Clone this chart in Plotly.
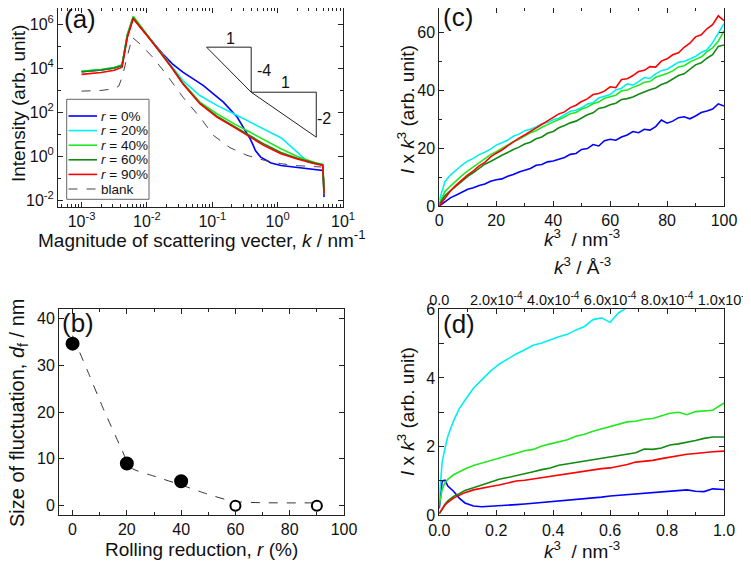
import numpy as np
import plotly.graph_objects as go

FONT = "Liberation Sans, Arial, sans-serif"

# ---------------- Panel (a): SAXS profiles (log10 values)
logk_a = [-3.0, -2.7, -2.5, -2.38, -2.30, -2.21, -2.0, -1.81, -1.61, -1.45, -1.19, -0.93, -0.67, -0.42, -0.2, 0.05, 0.3, 0.57, 0.69, 0.70, 0.71]
logI_r40 = [3.87, 3.95, 4.04, 4.16, 5.55, 6.38, 5.55, 4.82, 4.02, 3.35, 2.47, 1.94, 1.49, 1.10, 0.75, 0.35, 0.0, -0.28, -0.36, -1.0, -1.6]
logI_r60 = [3.85, 3.93, 4.02, 4.14, 5.45, 6.32, 5.52, 4.80, 4.00, 3.32, 2.42, 1.83, 1.38, 0.95, 0.55, 0.18, -0.08, -0.30, -0.38, -1.0, -1.65]
logI_r90 = [3.73, 3.82, 3.92, 4.06, 5.40, 6.26, 5.50, 4.80, 4.00, 3.30, 2.40, 1.79, 1.33, 0.88, 0.48, 0.12, -0.12, -0.33, -0.41, -1.0, -1.7]

logk_r0 = [-3.0, -2.7, -2.5, -2.38, -2.30, -2.21, -2.0, -1.81, -1.76, -1.61, -1.45, -1.14, -0.83, -0.62, -0.49, -0.42, -0.38, -0.34, -0.26, -0.1, 0.05, 0.3, 0.5, 0.69, 0.70, 0.71]
logI_r0 = [3.85, 3.93, 4.02, 4.14, 5.5, 6.30, 5.52, 4.82, 4.67, 4.21, 3.83, 3.23, 2.47, 1.79, 1.18, 0.80, 0.55, 0.27, -0.03, -0.30, -0.41, -0.50, -0.56, -0.64, -1.0, -1.85]

logk_r20 = [-3.0, -2.7, -2.5, -2.38, -2.30, -2.21, -2.0, -1.81, -1.66, -1.45, -1.19, -0.93, -0.67, -0.42, -0.05, 0.05, 0.3, 0.46, 0.69, 0.70, 0.71]
logI_r20 = [3.87, 3.95, 4.04, 4.16, 5.5, 6.33, 5.53, 4.82, 4.21, 3.45, 2.77, 2.32, 1.94, 1.56, 1.03, 0.85, 0.2, -0.26, -0.38, -1.0, -1.7]

logk_blank = [-3.0, -2.7, -2.5, -2.43, -2.38, -2.30, -2.225, -2.1, -1.91, -1.71, -1.45, -1.19, -0.98, -0.73, -0.47, -0.2, 0.05, 0.3, 0.67]
logI_blank = [2.97, 3.0, 3.08, 3.2, 3.6, 4.5, 5.42, 5.1, 4.51, 3.76, 2.70, 1.79, 0.95, 0.4, 0.05, -0.18, -0.33, -0.42, -0.48]

# slope guide triangles (k, I)
tri1_k = [0.0818, 0.394, 0.394, 0.0818]
tri1_I = [9.3e4, 9.3e4, 832, 9.3e4]
tri2_k = [0.394, 3.9, 3.9, 0.394]
tri2_I = [832, 832, 7.5, 832]

# ---------------- Panel (b)
r_pct = [0, 20, 40, 60, 90]
d_f = [34.6, 9.0, 5.2, 0.0, 0.0]
filled = [True, True, True, False, False]
guide_r = [0, 5.5, 11.7, 17.8, 21.5, 30, 39.6, 48.5, 59.5, 89.6]
guide_d = [36.3, 28.8, 20.2, 12.4, 8.1, 6.3, 4.5, 2.7, 0.9, 0.6]

# ---------------- Panel (c): I x k^3 vs k^3
k3_c = list(range(0, 101, 2))
c_r0 = [0, 1.6, 2.9, 3.8, 4.9, 5.8, 6.3, 7.1, 7.6, 8.6, 9.1, 9.4, 10.3, 10.9, 11.8, 12.4, 13.0, 14.1, 14.4, 15.3, 15.6, 16.2, 16.8, 17.9, 18.2, 19.6, 19.9, 21.3, 20.8, 22.6, 23.1, 22.8, 23.9, 24.6, 25.8, 25.4, 26.6, 26.3, 27.5, 29.8, 28.7, 29.4, 30.6, 30.9, 30.2, 31.2, 32.4, 32.9, 33.6, 35.4, 34.6]
c_r20 = [2.0, 8.5, 10.8, 12.6, 14.2, 15.6, 16.5, 17.8, 18.6, 19.7, 21.1, 21.9, 22.8, 24.2, 24.9, 26.1, 26.6, 27.4, 28.5, 28.9, 29.9, 30.4, 31.6, 32.8, 33.2, 34.1, 35.3, 35.8, 37.4, 37.9, 38.6, 40.2, 40.8, 42.3, 41.9, 43.1, 44.5, 44.2, 45.8, 46.9, 47.4, 48.6, 49.8, 50.1, 50.9, 51.8, 53.2, 54.1, 56.6, 59.8, 63.2]
c_r40 = [1.0, 5.0, 7.0, 8.9, 10.6, 12.2, 13.6, 15.0, 16.2, 17.8, 18.8, 20.0, 21.0, 22.3, 23.1, 24.2, 25.4, 26.1, 27.3, 28.2, 29.1, 29.9, 30.8, 32.0, 32.4, 33.6, 34.3, 35.4, 36.0, 37.3, 37.9, 38.4, 39.9, 40.2, 41.1, 41.8, 42.9, 43.1, 44.6, 45.2, 45.9, 46.8, 48.2, 48.6, 49.9, 50.8, 51.6, 53.4, 54.8, 57.1, 60.8]
c_r60 = [0.5, 3.6, 5.3, 7.0, 8.8, 10.3, 11.6, 13.2, 14.5, 15.4, 16.6, 17.6, 18.5, 19.6, 20.4, 21.5, 22.1, 23.3, 23.9, 25.2, 25.8, 27.1, 27.9, 28.8, 29.4, 30.5, 31.6, 32.3, 33.8, 34.2, 35.1, 35.6, 36.9, 37.2, 37.8, 38.7, 39.6, 40.3, 40.9, 42.1, 42.8, 43.9, 45.2, 45.8, 47.3, 48.9, 49.6, 51.2, 52.4, 55.3, 55.8]
c_r90 = [0, 2.9, 5.4, 7.3, 9.1, 10.8, 12.2, 13.9, 15.1, 17.0, 18.3, 19.4, 20.8, 22.3, 23.5, 24.6, 25.8, 27.1, 28.4, 29.6, 30.7, 31.9, 32.6, 34.1, 34.9, 36.2, 37.1, 38.6, 39.0, 39.8, 41.3, 41.0, 43.8, 44.1, 45.2, 46.6, 47.0, 48.3, 48.1, 50.2, 51.0, 52.4, 53.1, 55.0, 56.4, 58.6, 59.3, 61.4, 62.8, 65.9, 64.2]

# ---------------- Panel (d): low-k^3 region
k3_d = [0, 0.01, 0.02, 0.03, 0.05, 0.07, 0.09, 0.12, 0.15, 0.18, 0.21, 0.24, 0.27, 0.30, 0.33, 0.36, 0.39, 0.42, 0.45, 0.48, 0.51, 0.54, 0.57, 0.60, 0.63, 0.66, 0.69, 0.72, 0.75, 0.78, 0.81, 0.84, 0.87, 0.90, 0.93, 0.96, 1.00]
d_r0 = [0.2, 1.0, 1.02, 0.85, 0.7, 0.5, 0.36, 0.27, 0.25, 0.26, 0.27, 0.29, 0.31, 0.33, 0.35, 0.38, 0.39, 0.41, 0.43, 0.46, 0.48, 0.5, 0.53, 0.56, 0.58, 0.6, 0.62, 0.64, 0.65, 0.68, 0.7, 0.72, 0.74, 0.7, 0.69, 0.77, 0.75]
d_r20 = [0.5, 1.55, 1.95, 2.3, 2.75, 3.1, 3.35, 3.7, 3.95, 4.2, 4.4, 4.55, 4.7, 4.82, 4.95, 5.02, 5.12, 5.2, 5.27, 5.4, 5.5, 5.7, 5.75, 5.62, 5.9, 6.05, 6.2, None, None, None, None, None, None, None, None, None, None]
d_r40 = [0.3, 0.75, 0.95, 1.05, 1.18, 1.27, 1.35, 1.45, 1.52, 1.6, 1.68, 1.74, 1.8, 1.88, 1.92, 2.02, 2.08, 2.15, 2.2, 2.3, 2.36, 2.45, 2.52, 2.6, 2.66, 2.72, 2.74, 2.8, 2.82, 2.9, 2.97, 3.0, 2.93, 3.02, 3.05, 3.06, 3.27]
d_r60 = [0.05, 0.2, 0.32, 0.42, 0.55, 0.63, 0.72, 0.8, 0.88, 0.97, 1.05, 1.1, 1.15, 1.2, 1.27, 1.33, 1.38, 1.46, 1.5, 1.54, 1.57, 1.62, 1.64, 1.7, 1.74, 1.76, 1.82, 1.93, 1.92, 1.96, 2.05, 2.08, 2.12, 2.18, 2.24, 2.28, 2.28]
d_r90 = [0.05, 0.18, 0.3, 0.38, 0.5, 0.58, 0.66, 0.74, 0.8, 0.84, 0.88, 0.93, 1.0, 1.02, 1.06, 1.1, 1.14, 1.18, 1.22, 1.25, 1.3, 1.33, 1.36, 1.38, 1.42, 1.48, 1.55, 1.57, 1.6, 1.65, 1.7, 1.74, 1.78, 1.8, 1.83, 1.85, 1.87]

# tick labels
a_xticks = [1e-3, 1e-2, 1e-1, 1e0, 1e1]
a_xtext = ["10<sup>-3</sup>", "10<sup>-2</sup>", "10<sup>-1</sup>", "10<sup>0</sup>", "10<sup>1</sup>"]
a_yticks = [1e-2, 1e0, 1e2, 1e4, 1e6]
a_ytext = ["10<sup>-2</sup>", "10<sup>0</sup>", "10<sup>2</sup>", "10<sup>4</sup>", "10<sup>6</sup>"]
top_ticks = [0, 2e-4, 4e-4, 6e-4, 8e-4, 1e-3]
top_text = ["0.0", "2.0x10<sup>-4</sup>", "4.0x10<sup>-4</sup>", "6.0x10<sup>-4</sup>", "8.0x10<sup>-4</sup>", "1.0x10<sup>-3</sup>"]

labels = ["<i>r</i> = 0%", "<i>r</i> = 20%", "<i>r</i> = 40%", "<i>r</i> = 60%", "<i>r</i> = 90%"]
colors = ["#0000FF", "#00F0F0", "#22E822", "#128A12", "#FF0000"]

# the page body keeps an 8 px margin; positions below are window pixels
OFF = 8
W, H = 751, 564 - OFF
def px_x(p): return (p - OFF) / W
def px_y(p): return 1 - (p - OFF) / H

fig = go.Figure()
LW = 1.6

# (a)
a_series = [(logk_r0, logI_r0), (logk_r20, logI_r20), (logk_a, logI_r40), (logk_a, logI_r60), (logk_a, logI_r90)]
for (lk, li), lab, col in zip(a_series, labels, colors):
    fig.add_trace(go.Scatter(x=np.power(10.0, lk), y=np.power(10.0, li), mode="lines", name=lab,
                             line=dict(color=col, width=LW), xaxis="x", yaxis="y", showlegend=False))
fig.add_trace(go.Scatter(x=np.power(10.0, logk_blank), y=np.power(10.0, logI_blank), mode="lines", name="blank",
                         line=dict(color="#444", width=1, dash="dash"), xaxis="x", yaxis="y", showlegend=False))
for tk, ti in [(tri1_k, tri1_I), (tri2_k, tri2_I)]:
    fig.add_trace(go.Scatter(x=tk, y=ti, mode="lines", line=dict(color="#222", width=1),
                             showlegend=False, xaxis="x", yaxis="y", hoverinfo="skip"))

# (c)
for ys, col in zip([c_r0, c_r20, c_r40, c_r60, c_r90], colors):
    fig.add_trace(go.Scatter(x=k3_c, y=ys, mode="lines", line=dict(color=col, width=LW),
                             showlegend=False, xaxis="x2", yaxis="y2"))

# (b)
fig.add_trace(go.Scatter(x=guide_r, y=guide_d, mode="lines", line=dict(color="#333", width=1, dash="dash", shape="spline", smoothing=0.6),
                         showlegend=False, xaxis="x3", yaxis="y3"))
fig.add_trace(go.Scatter(x=r_pct, y=d_f, mode="markers", showlegend=False, xaxis="x3", yaxis="y3",
                         marker=dict(size=[12 if f else 10 for f in filled], opacity=1,
                                     color=["#000000" if f else "#FFFFFF" for f in filled],
                                     line=dict(color="#000000", width=2))))

# (d)
for ys, col in zip([d_r0, d_r20, d_r40, d_r60, d_r90], colors):
    fig.add_trace(go.Scatter(x=k3_d, y=ys, mode="lines", line=dict(color=col, width=LW),
                             showlegend=False, xaxis="x4", yaxis="y4", connectgaps=False))
# empty trace so the top (Angstrom) axis of panel (d) is drawn
fig.add_trace(go.Scatter(x=[], y=[], mode="lines", showlegend=False, xaxis="x5", yaxis="y4", hoverinfo="skip"))

AX = dict(showline=True, linecolor="#222", linewidth=1, mirror="allticks", ticks="inside", ticklen=5,
          tickcolor="#222", tickfont=dict(size=16, color="#111", family=FONT), showgrid=False, zeroline=False,
          automargin=False)
MIN = lambda d: dict(dtick=d, ticks="inside", ticklen=3, tickcolor="#222")

dom_a_x = [px_x(58), px_x(343)]
dom_a_y = [px_y(207), min(px_y(2), 1.0)]
dom_c_x = [px_x(439.3), px_x(724)]
dom_c_y = [px_y(206), min(px_y(2), 1.0)]
dom_b_x = [px_x(59), px_x(344)]
dom_b_y = [px_y(515), px_y(309)]
dom_d_x = [px_x(439.3), px_x(724)]
dom_d_y = [px_y(515.3), px_y(309.3)]

fig.update_layout(
    width=W, height=H, autosize=False,
    margin=dict(l=0, r=0, t=0, b=0, autoexpand=False),
    paper_bgcolor="white", plot_bgcolor="white",
    font=dict(family=FONT, color="#111"),
    showlegend=False,
    xaxis=dict(AX, type="log", domain=dom_a_x, anchor="y", range=[-3.36, 1.0], tickvals=a_xticks, ticktext=a_xtext,
               minor=dict(dtick="D1", ticks="inside", ticklen=3, tickcolor="#222")),
    yaxis=dict(AX, type="log", domain=dom_a_y, anchor="x", range=[-2.3, 6.75], tickvals=a_yticks, ticktext=a_ytext,
               minor=dict(dtick=1, ticks="inside", ticklen=3, tickcolor="#222")),
    xaxis2=dict(AX, domain=dom_c_x, anchor="y2", range=[0, 100], dtick=20, minor=MIN(10)),
    yaxis2=dict(AX, domain=dom_c_y, anchor="x2", range=[0, 68.6], tickvals=[0, 20, 40, 60], minor=MIN(10)),
    xaxis3=dict(AX, domain=dom_b_x, anchor="y3", range=[-5, 100], dtick=20, minor=MIN(10)),
    yaxis3=dict(AX, domain=dom_b_y, anchor="x3", range=[-2, 42], dtick=10),
    xaxis4=dict(AX, domain=dom_d_x, anchor="y4", range=[0, 1], dtick=0.2, tickformat=".1f", minor=MIN(0.1),
                mirror=True),
    yaxis4=dict(AX, domain=dom_d_y, anchor="x4", range=[0, 6], dtick=2, minor=MIN(1)),
    xaxis5=dict(overlaying="x4", anchor="y4", side="top", range=[0, 1e-3], tickvals=top_ticks, ticktext=top_text,
                ticks="inside", ticklen=5, tickcolor="#222", showline=False, showgrid=False, zeroline=False,
                automargin=False, tickfont=dict(size=14.5, color="#111", family=FONT),
                minor=dict(tickvals=[1e-4, 3e-4, 5e-4, 7e-4, 9e-4], ticks="inside", ticklen=3, tickcolor="#222")),
)

def ann(text, x, y, size, angle=0, xanchor="center", **kw):
    fig.add_annotation(text=text, x=px_x(x), y=px_y(y), xref="paper", yref="paper", showarrow=False,
                       font=dict(size=size, family=FONT, color="#111"), textangle=angle,
                       xanchor=xanchor, yanchor="middle", **kw)

# axis titles
ann("Magnitude of scattering vecter, <i>k</i> / nm<sup>-1</sup>", 202, 239, 19)
ann("Intensity (arb. unit)", 18, 104, 19, -90)
ann("Rolling reduction, <i>r</i> (%)", 201, 549, 19)
ann("Size of fluctuation, <i>d</i><sub>f</sub> / nm", 18, 413, 20, -90)
ann("<i>k</i><sup>3</sup>  / nm<sup>-3</sup>", 582, 238, 19)
ann("<i>I</i> x <i>k</i><sup>3</sup> (arb. unit)", 406, 110, 19, -90)
ann("<i>k</i><sup>3</sup> / Å<sup>-3</sup>", 582, 266, 19)
ann("<i>k</i><sup>3</sup>  / nm<sup>-3</sup>", 582, 550, 19)
ann("<i>I</i> x <i>k</i><sup>3</sup> (arb. unit)", 406, 412, 19, -90)

# panel labels
ann("(a)", 80, 19, 26)
ann("(c)", 458, 17, 26)
ann("(b)", 78, 323, 26)
ann("(d)", 459, 324, 26)

# slope labels on log axes (annotation coords in log10 units)
for txt, lx, ly in [("1", -0.72, 5.36), ("-4", -0.21, 3.91), ("1", 0.126, 3.36), ("-2", 0.715, 1.73)]:
    fig.add_annotation(text=txt, x=lx, y=ly, xref="x", yref="y", showarrow=False,
                       font=dict(size=16, family=FONT, color="#111"))

# legend of panel (a), drawn as a boxed key
leg_names = labels + ["blank"]
leg_colors = colors + ["#444"]
leg_dash = ["solid"] * 5 + ["dash"]
leg_widths = [LW] * 5 + [1]
fig.add_shape(type="rect", xref="paper", yref="paper", x0=px_x(66.7), x1=px_x(149), y0=px_y(199.3), y1=px_y(99.3),
              line=dict(color="#666", width=1), fillcolor="white", layer="above")
for i, (nm, col, ds, lw) in enumerate(zip(leg_names, leg_colors, leg_dash, leg_widths)):
    yy = 116 + i * 14.6
    fig.add_shape(type="line", xref="paper", yref="paper", x0=px_x(68.5), x1=px_x(97), y0=px_y(yy), y1=px_y(yy),
                  line=dict(color=col, width=lw, dash=ds), layer="above")
    ann(nm, 99, yy, 13.5, xanchor="left")

fig.write_html("out.html")
